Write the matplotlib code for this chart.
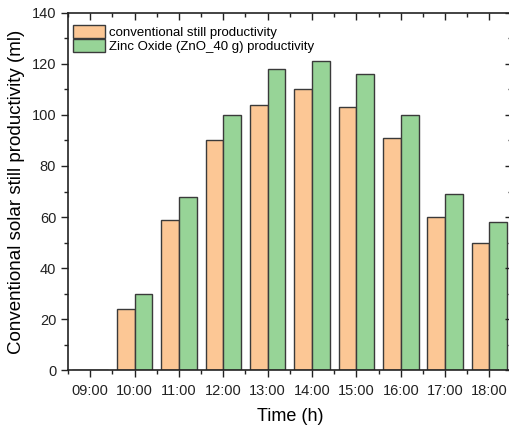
import matplotlib
matplotlib.use("Agg")
import matplotlib.pyplot as plt
import numpy as np
from matplotlib.ticker import MultipleLocator

plt.rcParams['font.family'] = ['Liberation Sans', 'DejaVu Sans']

times = ["09:00", "10:00", "11:00", "12:00", "13:00",
         "14:00", "15:00", "16:00", "17:00", "18:00"]
conventional = [0, 24, 59, 90, 104, 110, 103, 91, 60, 50]
zno = [0, 30, 68, 100, 118, 121, 116, 100, 69, 58]

fig = plt.figure(figsize=(5.1, 4.3), dpi=100)
ax = fig.add_axes([0.1333, 0.1395, 0.870, 0.8303])

x = np.arange(len(times))
w = 0.4
ax.bar(x - w / 2, conventional, w, color="#FCC795", edgecolor="#3a3a3a",
       linewidth=1.0, label="conventional still productivity")
ax.bar(x + w / 2, zno, w, color="#97D497", edgecolor="#3a3a3a",
       linewidth=1.0, label="Zinc Oxide (ZnO_40 g) productivity")

ax.set_xlim(-0.5, 9.5)
ax.set_ylim(0, 140)
ax.set_xticks(x)
ax.set_xticklabels(times)
ax.xaxis.set_minor_locator(MultipleLocator(0.5))
ax.yaxis.set_major_locator(MultipleLocator(20))
ax.yaxis.set_minor_locator(MultipleLocator(10))

ax.tick_params(which="both", direction="out", labelsize=10.5, width=1.0,
               colors="#222222")
ax.tick_params(axis="x", pad=5)
ax.tick_params(which="major", length=5)
ax.tick_params(which="minor", length=3)
ax.tick_params(which="both", top=True, right=True)
for s in ax.spines.values():
    s.set_linewidth(1.2)
    s.set_color("#222222")

# mirrored ticks point inward on top/right
for t in ax.xaxis.get_major_ticks() + ax.xaxis.get_minor_ticks():
    t.tick2line.set_marker(3)
for t in ax.yaxis.get_major_ticks() + ax.yaxis.get_minor_ticks():
    t.tick2line.set_marker(0)

ax.set_xlabel("Time (h)", fontsize=13, labelpad=7)
ax.set_ylabel("Conventional solar still productivity (ml)", fontsize=13.5,
              labelpad=5)

ax.legend(loc="upper left", bbox_to_anchor=(0.0, 0.98), fontsize=9.5,
          frameon=False, handlelength=2.4, handleheight=1.15,
          borderaxespad=0.0, labelspacing=0.0, handletextpad=0.3,
          borderpad=0.38)

fig.savefig("out.png", dpi=100)
